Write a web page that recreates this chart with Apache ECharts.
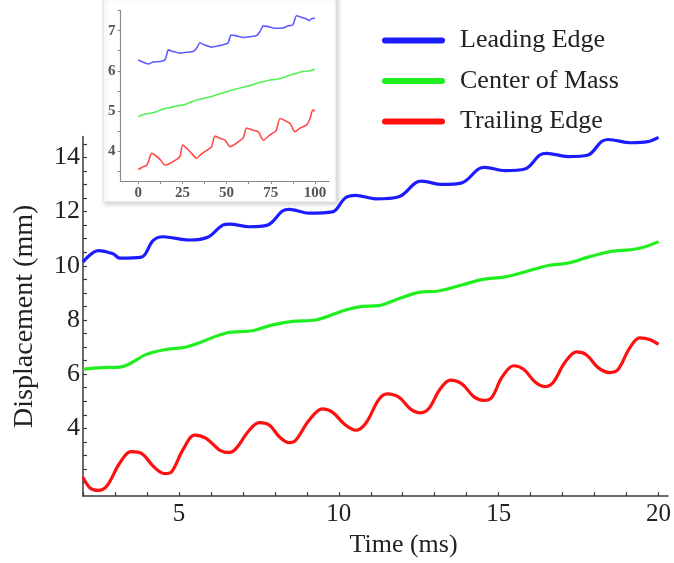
<!DOCTYPE html>
<html>
<head>
<meta charset="utf-8">
<script src="https://cdn.jsdelivr.net/npm/echarts@6/dist/echarts.min.js"></script>
<style>
  html, body { margin: 0; padding: 0; background: #fff; }
  #chart { width: 674px; height: 563px; }
</style>
</head>
<body>
<div id="chart"></div>
<script>
// Displacement of the leading edge, centre of mass and trailing edge over time (ms)
const leadT = [2.0, 2.48, 2.94, 3.15, 3.83, 4.19, 4.5, 5.33, 5.9, 6.37, 6.58, 7.2, 7.77, 8.24, 8.45, 9.07, 9.8, 10.21, 10.53, 11.15, 11.88, 12.4, 12.6, 13.23, 13.85, 14.37, 14.57, 15.2, 15.82, 16.29, 16.5, 17.17, 17.8, 18.21, 18.42, 19.14, 19.66, 20.0];
const leadY = [10.14, 10.56, 10.44, 10.28, 10.32, 10.93, 11.07, 10.95, 11.05, 11.5, 11.54, 11.44, 11.5, 12.02, 12.08, 11.94, 11.99, 12.51, 12.6, 12.47, 12.55, 13.06, 13.12, 13.0, 13.06, 13.57, 13.63, 13.51, 13.57, 14.09, 14.15, 14.03, 14.09, 14.58, 14.66, 14.54, 14.58, 14.74];

const massT = [2.0, 2.6, 3.2, 3.98, 4.6, 5.23, 5.64, 6.48, 7.3, 7.93, 8.55, 9.28, 10.21, 10.73, 11.25, 11.77, 12.5, 13.12, 13.85, 14.47, 15.2, 15.82, 16.55, 17.17, 17.8, 18.52, 19.14, 19.56, 20.0];
const massY = [6.18, 6.24, 6.27, 6.73, 6.91, 7.0, 7.16, 7.52, 7.6, 7.82, 7.95, 8.0, 8.37, 8.5, 8.53, 8.74, 9.02, 9.07, 9.29, 9.49, 9.59, 9.77, 10.01, 10.1, 10.32, 10.53, 10.59, 10.69, 10.89];

const trailT = [2.0, 2.22, 2.48, 2.74, 3.15, 3.5, 3.85, 4.2, 4.55, 4.78, 5.12, 5.49, 5.85, 6.27, 6.58, 6.79, 7.2, 7.51, 7.83, 8.14, 8.45, 8.66, 9.07, 9.49, 9.8, 10.21, 10.53, 10.84, 11.25, 11.51, 11.88, 12.24, 12.55, 12.81, 13.17, 13.49, 13.85, 14.22, 14.53, 14.79, 15.1, 15.47, 15.78, 16.15, 16.46, 16.71, 17.07, 17.44, 17.75, 18.11, 18.48, 18.74, 19.1, 19.41, 19.72, 20.0];
const trailY = [2.2, 1.8, 1.71, 1.86, 2.72, 3.14, 3.06, 2.6, 2.33, 2.41, 3.2, 3.75, 3.63, 3.2, 3.11, 3.26, 3.93, 4.21, 4.12, 3.69, 3.47, 3.57, 4.3, 4.72, 4.6, 4.12, 3.93, 4.18, 5.06, 5.27, 5.15, 4.72, 4.57, 4.72, 5.45, 5.78, 5.64, 5.17, 5.03, 5.15, 5.88, 6.31, 6.18, 5.7, 5.54, 5.7, 6.43, 6.82, 6.71, 6.24, 6.06, 6.18, 6.97, 7.34, 7.28, 7.1];

// Inset: the same three traces over sample index 0-100
const insetLeadN = [0, 2.8, 5.7, 8.5, 12.3, 15.1, 16, 17, 19.8, 23.6, 27.4, 31.1, 33, 34.9, 37.7, 41.5, 45.3, 49, 50.9, 52.5, 55.7, 59.4, 63.2, 67, 68.9, 70.8, 73.6, 77.4, 81.1, 84.9, 87.4, 89.6, 92.5, 95.3, 96.8, 98.1, 100];
const insetLeadY = [6.27, 6.21, 6.17, 6.22, 6.23, 6.27, 6.39, 6.52, 6.48, 6.44, 6.46, 6.48, 6.56, 6.7, 6.64, 6.59, 6.62, 6.66, 6.7, 6.89, 6.87, 6.83, 6.85, 6.88, 6.98, 7.12, 7.1, 7.06, 7.06, 7.12, 7.14, 7.37, 7.33, 7.29, 7.25, 7.3, 7.31];
const insetMassN = [0, 2.8, 6.6, 10.4, 14.2, 17.9, 21.7, 25.5, 29.2, 33, 36.8, 40.6, 44.3, 48.1, 51.9, 55.7, 59.4, 63.2, 67, 70.8, 74.5, 78.3, 82.1, 85.8, 89.6, 93.4, 97.2, 100];
const insetMassY = [4.86, 4.91, 4.94, 4.98, 5.05, 5.08, 5.12, 5.15, 5.21, 5.27, 5.31, 5.35, 5.4, 5.45, 5.5, 5.55, 5.59, 5.63, 5.69, 5.73, 5.77, 5.79, 5.83, 5.89, 5.94, 5.98, 6.0, 6.04];
const insetTrailN = [0, 2.8, 4.7, 5.7, 7.5, 9.4, 12.3, 15.1, 17.9, 21.7, 23.6, 25.1, 27.4, 30.2, 33, 35.8, 39.6, 41.5, 43.4, 46.2, 49.1, 51.9, 54.7, 57.5, 59.4, 61.3, 65.1, 67.9, 70.8, 74.5, 77.9, 80.2, 83, 85.8, 88.7, 91.5, 95.3, 97.2, 98.7, 100];
const insetTrailY = [3.54, 3.61, 3.64, 3.73, 3.94, 3.9, 3.79, 3.65, 3.69, 3.79, 3.86, 4.15, 4.07, 3.94, 3.82, 3.93, 4.04, 4.11, 4.37, 4.32, 4.27, 4.11, 4.17, 4.26, 4.33, 4.57, 4.52, 4.48, 4.27, 4.4, 4.5, 4.81, 4.76, 4.69, 4.48, 4.57, 4.65, 4.81, 5.02, 5.0];

// Tick labels
const xTickLabels = [5, 10, 15, 20];
const yTickLabels = [4, 6, 8, 10, 12, 14];
const insetXLabels = [0, 25, 50, 75, 100];
const insetYLabels = [4, 5, 6, 7];

const seriesNames = ['Leading Edge', 'Center of Mass', 'Trailing Edge'];
const colors = ['#1c1cff', '#1fee1f', '#ff1010'];
const insetColors = ['#5c5cff', '#55f055', '#ff4a4a'];

const SERIF = "'Liberation Serif', 'Times New Roman', serif";

function pairs(xs, ys) { return xs.map((x, i) => [x, ys[i]]); }
function steps(a, b, s) { const out = []; for (let v = a; v <= b + 1e-9; v += s) out.push(+v.toFixed(4)); return out; }

const chart = echarts.init(document.getElementById('chart'), null, { renderer: 'canvas' });

const mainAxisLine = { show: true, onZero: false, lineStyle: { color: '#3a3a3a', width: 1.5 } };
const insetAxisLine = { show: true, onZero: false, lineStyle: { color: '#8a8a8a', width: 1.2 } };

chart.setOption({
  animation: false,
  backgroundColor: '#ffffff',
  graphic: [{
    type: 'rect',
    z: 1,
    shape: { x: 103, y: -4, width: 233, height: 206 },
    style: { fill: '#ffffff', stroke: '#e2e2e2', lineWidth: 1, shadowColor: 'rgba(0,0,0,0.18)', shadowBlur: 4, shadowOffsetX: 2, shadowOffsetY: 2 }
  }],
  legend: {
    data: seriesNames,
    orient: 'vertical',
    left: 377,
    top: 22,
    itemWidth: 63,
    itemHeight: 6,
    itemGap: 13.5,
    icon: 'path://M3,0 L60,0 A3,3 0 0 1 60,6 L3,6 A3,3 0 0 1 3,0 Z',
    textStyle: { fontFamily: SERIF, fontSize: 26, color: '#222', lineHeight: 27, padding: [0, 0, 0, 10] }
  },
  grid: [
    { left: 83, top: 136.5, width: 587.4, height: 363.5, containLabel: false },
    { left: 120.6, top: 10.6, width: 208.5, height: 170.5, containLabel: false, z: 5 }
  ],
  xAxis: [{
    type: 'value', gridIndex: 0, min: 2, max: 20.3,
    axisLine: mainAxisLine,
    axisTick: { show: true, inside: true, length: 4, customValues: steps(2, 20, 1), lineStyle: { color: '#3a3a3a', width: 1.2 } },
    axisLabel: { customValues: xTickLabels, fontFamily: SERIF, fontSize: 25, color: '#222', margin: 6 },
    splitLine: { show: false },
    name: 'Time (ms)', nameLocation: 'middle', nameGap: 35,
    nameTextStyle: { fontFamily: SERIF, fontSize: 26, color: '#222', padding: [0, 0, 0, 56] }
  }, {
    type: 'value', gridIndex: 1, min: -10, max: 108, z: 5,
    axisLine: insetAxisLine,
    axisTick: { show: true, inside: false, length: 3, customValues: steps(0, 100, 12.5), lineStyle: { color: '#8a8a8a' } },
    axisLabel: { customValues: insetXLabels, fontFamily: SERIF, fontSize: 15, fontWeight: 'bold', color: '#555', margin: 5 },
    splitLine: { show: false }
  }],
  yAxis: [{
    type: 'value', gridIndex: 0, min: 1.5, max: 14.77,
    axisLine: mainAxisLine,
    axisTick: { show: true, inside: true, length: 4, customValues: steps(2, 14.5, 0.5), lineStyle: { color: '#3a3a3a', width: 1.2 } },
    axisLabel: { customValues: yTickLabels, fontFamily: SERIF, fontSize: 26, color: '#222', margin: 3 },
    splitLine: { show: false },
    name: 'Displacement (mm)', nameLocation: 'middle', nameGap: 44, nameRotate: 90,
    nameTextStyle: { fontFamily: SERIF, fontSize: 28, color: '#222' }
  }, {
    type: 'value', gridIndex: 1, min: 3.25, max: 7.5, z: 5,
    axisLine: insetAxisLine,
    axisTick: { show: true, inside: false, length: 3, customValues: steps(3.5, 7.5, 0.5), lineStyle: { color: '#8a8a8a' } },
    axisLabel: { customValues: insetYLabels, fontFamily: SERIF, fontSize: 15, fontWeight: 'bold', color: '#555', margin: 5 },
    splitLine: { show: false }
  }],
  series: [
    { name: seriesNames[0], type: 'line', xAxisIndex: 0, yAxisIndex: 0, data: pairs(leadT, leadY), smooth: 0.35, showSymbol: false, clip: false, lineStyle: { color: colors[0], width: 3.2 }, itemStyle: { color: colors[0] } },
    { name: seriesNames[1], type: 'line', xAxisIndex: 0, yAxisIndex: 0, data: pairs(massT, massY), smooth: 0.35, showSymbol: false, clip: false, lineStyle: { color: colors[1], width: 3.2 }, itemStyle: { color: colors[1] } },
    { name: seriesNames[2], type: 'line', xAxisIndex: 0, yAxisIndex: 0, data: pairs(trailT, trailY), smooth: 0.35, showSymbol: false, clip: false, lineStyle: { color: colors[2], width: 3.2 }, itemStyle: { color: colors[2] } },
    { name: 'inset lead', type: 'line', xAxisIndex: 1, yAxisIndex: 1, z: 6, data: pairs(insetLeadN, insetLeadY), smooth: 0.2, showSymbol: false, lineStyle: { color: insetColors[0], width: 1.6 } },
    { name: 'inset mass', type: 'line', xAxisIndex: 1, yAxisIndex: 1, z: 6, data: pairs(insetMassN, insetMassY), smooth: 0.2, showSymbol: false, lineStyle: { color: insetColors[1], width: 1.6 } },
    { name: 'inset trail', type: 'line', xAxisIndex: 1, yAxisIndex: 1, z: 6, data: pairs(insetTrailN, insetTrailY), smooth: 0.2, showSymbol: false, lineStyle: { color: insetColors[2], width: 1.6 } }
  ]
});
</script>
</body>
</html>
